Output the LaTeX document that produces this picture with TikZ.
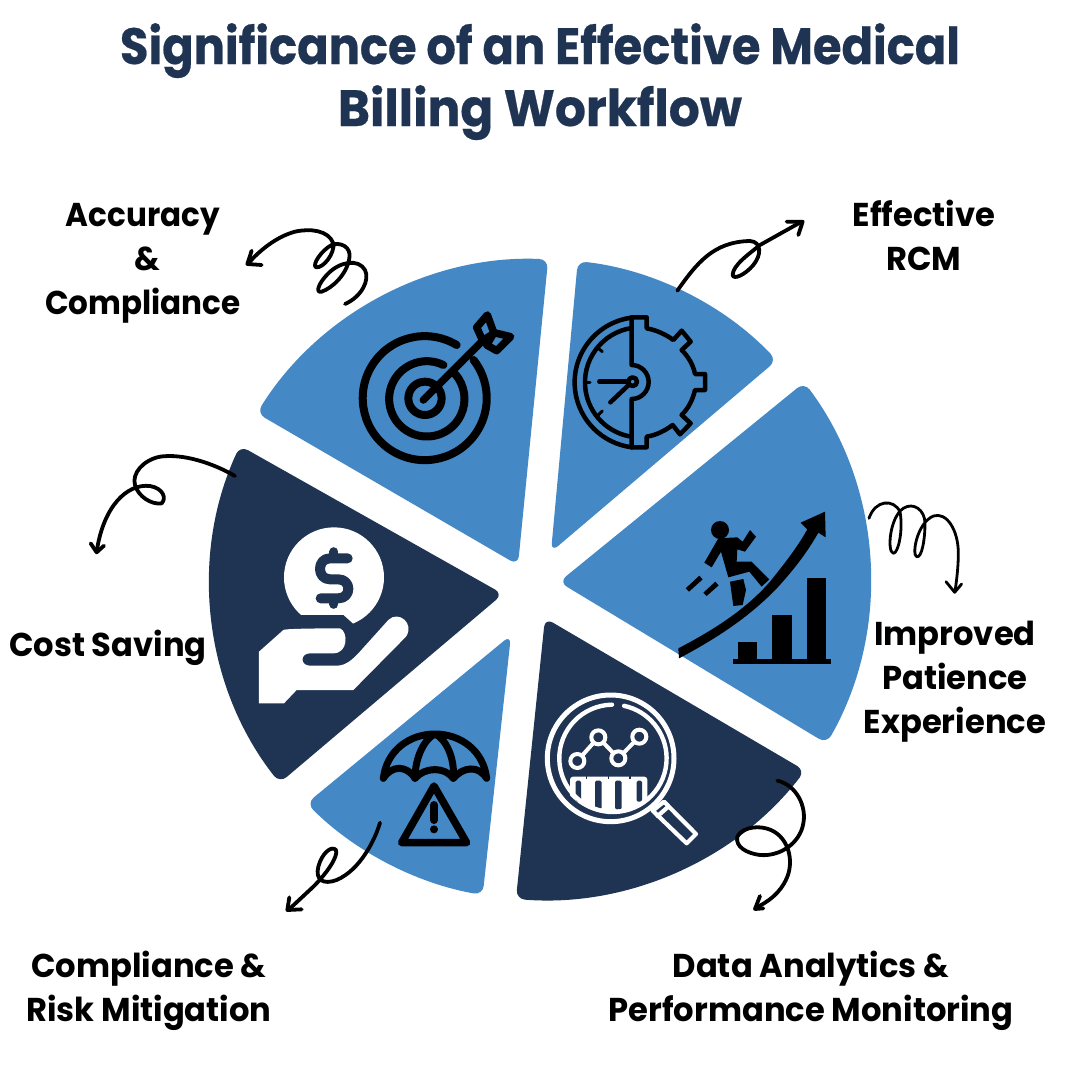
\documentclass[tikz,border=0pt]{standalone}
\usepackage{fontspec}
\setmainfont{Poppins}
\newfontfamily\lab{Poppins}[FakeStretch=0.975]
\newfontfamily\labB{Poppins}[FakeStretch=0.94]
\newfontfamily\titleA{Poppins}[FakeStretch=0.91,BoldFeatures={FakeBold=0.4}]
\newfontfamily\titleB{Poppins}[FakeStretch=0.955,BoldFeatures={FakeBold=0.4}]
\definecolor{lblue}{HTML}{4488C6}
\definecolor{dblue}{HTML}{1F3352}
\tikzset{
 titletext/.style={anchor=base,text=dblue,font=\fontsize{51}{51}\selectfont\bfseries},
 labeltext/.style={anchor=base,text=black,font=\lab\fontsize{33}{33}\selectfont\bfseries},
 sectorshape/.style={rounded corners=9pt},
 squiggle/.style={draw=black,line width=3.8pt,line cap=round,line join=round},
 thinsquiggle/.style={draw=black,line width=2.8pt,line cap=round,line join=round},
 iconline/.style={draw=black,line width=#1,line cap=round,line join=round},
 whiteline/.style={draw=white,line width=#1,line cap=round,line join=round},
 zoomed/.style={shift={#1},scale=0.33333}
}
\newcommand{\sectorfill}[7]{% colour, cx, cy, r, a1, a2, tip
 \fill[#1,sectorshape] (#7) -- ({#2+#4*cos(#5)},{#3+#4*sin(#5)}) arc[start angle=#5,end angle=#6,radius=#4] -- cycle;}
\begin{document}
\begin{tikzpicture}[x=1pt,y=-1pt]
\useasboundingbox (0,0) rectangle (1080,1080);
\fill[white] (0,0) rectangle (1080,1080);
% sectors
\sectorfill{lblue}{535}{587}{328}{212}{272.3}{518,565}
\sectorfill{lblue}{541}{584}{325}{276.5}{316.5}{551,552}
\sectorfill{lblue}{540}{580}{330}{-36.8}{29.7}{559,582}
\sectorfill{dblue}{542}{568}{332}{37.6}{94.5}{545,618}
\sectorfill{lblue}{540}{570}{330}{100}{135}{511,635}
\sectorfill{dblue}{535}{582}{325}{141.8}{204.8}{503,594}
% title
\node[titletext] (t1) at (540,64) {\titleA Significance of an Effective Medical};
\node[titletext] (t2) at (540,126) {\titleB Billing Workflow};
% labels
\node[labeltext] (a1) at (143,226) {\labB Accuracy};
\node[labeltext] (a2) at (147,270) {\&};
\node[labeltext] (a3) at (143,314) {\labB Compliance};
\node[labeltext] (b1) at (924,226) {Effective};
\node[labeltext] (b2) at (924,270) {RCM};
\node[labeltext] (c1) at (955,645) {Improved};
\node[labeltext] (c2) at (955,689) {Patience};
\node[labeltext] (c3) at (955,733) {Experience};
\node[labeltext] (d1) at (811,977) {Data Analytics \&};
\node[labeltext] (d2) at (811,1021) {Performance Monitoring};
\node[labeltext] (e1) at (149,977) {Compliance \&};
\node[labeltext] (e2) at (149,1021) {Risk Mitigation};
\node[labeltext] (f1) at (108,656) {Cost Saving};
% target icon
\begin{scope}[zoomed={(240,190)}]
 \draw[iconline=8pt] (650,465) arc[start angle=-59,end angle=-398,radius=186];
 \draw[iconline=8pt] (610,525) arc[start angle=-64,end angle=-401,radius=113];
 \draw[iconline=8pt] (555,625) circle[radius=50];
 \draw[iconline=7.5pt] (550,630) -- (725,455);
 \draw[iconline=7.5pt] (710,412) -- (742,375) -- (762,430) -- (728,452) -- cycle;
 \draw[iconline=7.5pt] (740,465) -- (770,482) -- (812,440) -- (762,428) -- cycle;
\end{scope}
% gear clock icon
\begin{scope}[zoomed={(540,200)}]
 \draw[iconline=4.5pt] (275,353) arc[start angle=-97.3,end angle=-262.7,radius=196];
 \draw[iconline=4.5pt] (275,384) arc[start angle=-98.7,end angle=-261.3,radius=165];
 \draw[iconline=4.5pt] (275,352) -- (275,495) arc[start angle=-90,end angle=90,radius=51] -- (275,742);
 \draw[iconline=4.5pt] (275,352) -- (320,352) -- (320,385) .. controls (350,390) and (380,405) .. (400,420) -- (425,392) -- (452,425) -- (425,450) .. controls (445,470) and (460,495) .. (465,522) -- (495,522) -- (495,570) -- (465,570) .. controls (458,600) and (445,625) .. (425,645) -- (452,670) -- (420,703) -- (398,675) .. controls (375,692) and (350,705) .. (320,710) -- (320,742) -- (275,742);
 \draw[iconline=4.5pt] (278,545) circle[radius=13];
 \draw[iconline=4.5pt] (178,545) -- (262,545);
 \draw[iconline=4.5pt] (211,607) -- (266,555);
 \draw[iconline=3pt] (138,547) -- (150,547);
 \draw[iconline=3pt] (175,445) -- (187,455);
 \draw[iconline=3pt] (175,645) -- (187,633);
\end{scope}
% climbing icon
\begin{scope}[zoomed={(650,480)}]
 \fill[black] (85,505) .. controls (200,445) and (290,385) .. (360,305) .. controls (400,255) and (440,205) .. (472,148) -- (452,128) -- (525,95) -- (527,172) -- (505,158) .. controls (470,220) and (430,270) .. (385,320) .. controls (300,410) and (200,475) .. (87,535) -- cycle;
 \fill[black] (248,538) rectangle (543,552);
 \fill[black] (263,485) rectangle (322,540);
 \fill[black] (367,405) rectangle (425,540);
 \fill[black] (470,293) rectangle (528,540);
 \fill[black] (210,150) circle[radius=27];
 \fill[black] (205,175) -- (262,172) -- (278,185) -- (300,150) -- (318,170) -- (285,215) -- (262,208) -- (260,245) -- (305,245) -- (358,298) -- (335,320) -- (298,275) -- (235,292) -- (213,215) -- (185,262) -- (163,248) -- cycle;
 \fill[black] (240,305) -- (280,297) -- (288,330) -- (278,375) -- (250,378) -- cycle;
 \fill[black] (107,325) -- (148,287) -- (158,298) -- (117,335) -- cycle;
 \fill[black] (160,338) -- (196,305) -- (206,316) -- (170,348) -- cycle;
\end{scope}
% magnifier icon
\begin{scope}[zoomed={(520,690)}]
 \begin{scope}
  \clip (272,205) circle[radius=165];
  \fill[white,rounded corners=3pt] (150,420) -- (150,260) -- (382,260) -- (382,420) -- cycle;
  \foreach \sx/\sw/\sb in {167/16/335,225/20/358,285/20/358,350/16/335}{
   \fill[dblue,rounded corners=1.5pt] (\sx,272) rectangle (\sx+\sw,\sb);}
  \foreach \nx in {200,266,330}{
   \fill[dblue] (\nx-2,258) rectangle (\nx+2,266);}
 \end{scope}
 \draw[whiteline=5pt] (272,205) circle[radius=190];
 \draw[whiteline=4.4pt] (276,44) arc[start angle=-91,end angle=-438,radius=161];
 \draw[whiteline=4pt] (172,213) -- (235,142) -- (295,205) -- (358,140);
 \foreach \px/\py in {172/213,235/142,295/205,358/140}{
  \filldraw[fill=dblue,draw=white,line width=4pt] (\px,\py) circle[radius=21];}
 \draw[whiteline=4.2pt] (398,362) -- (432,335) -- (528,432) -- (500,460) -- cycle;
 \draw[whiteline=4.2pt] (445,350) -- (413,378);
\end{scope}
% umbrella icon
\begin{scope}[zoomed={(270,710)}]
 \draw[iconline=7pt] (340,205) .. controls (350,120) and (420,72) .. (495,72) .. controls (570,72) and (640,120) .. (650,205) .. controls (625,165) and (580,170) .. (550,205) .. controls (525,170) and (465,170) .. (435,205) .. controls (410,165) and (365,165) .. (340,205);
 \draw[iconline=7pt] (435,205) .. controls (435,140) and (465,85) .. (495,72) .. controls (525,85) and (555,140) .. (550,205);
 \draw[iconline=7.5pt] (492,228) -- (395,398) -- (590,398) -- cycle;
 \draw[iconline=8pt] (492,285) -- (492,330);
 \fill[black] (492,358) circle[radius=12];
\end{scope}
% money icon
\begin{scope}[zoomed={(80,440)}]
 \fill[white] (762,412) circle[radius=150];
 \fill[dblue] (600,525) -- (790,525) -- (820,552) -- (880,560) -- (900,700) -- (600,700) -- cycle;
 \draw[draw=dblue,line width=10pt,line cap=round,line join=round] (803,355) -- (750,355) .. controls (710,355) and (710,418) .. (750,418) -- (775,418) .. controls (815,418) and (815,475) .. (775,475) -- (722,475);
 \draw[draw=dblue,line width=9pt,line cap=round] (762,335) -- (762,345);
 \draw[draw=dblue,line width=9pt,line cap=round] (762,485) -- (762,493);
 \fill[white] (537,635) -- (610,570) .. controls (615,565) and (770,565) .. (780,565) .. controls (805,575) and (805,640) .. (760,640) -- (690,640) .. controls (660,640) and (660,677) .. (690,677) -- (770,677) .. controls (800,677) and (820,655) .. (835,640) -- (925,540) .. controls (955,510) and (1005,550) .. (978,590) -- (820,750) -- (650,750) -- (612,790) -- (537,790) -- cycle;
\end{scope}
% squiggle arrows
\begin{scope}[zoomed={(240,190)}]
 \draw[squiggle] (315,342) .. controls (365,320) and (390,270) .. (375,240) .. controls (355,205) and (300,215) .. (265,250) .. controls (235,280) and (225,310) .. (245,305) .. controls (275,295) and (320,255) .. (328,205) .. controls (335,170) and (300,155) .. (275,165) .. controls (245,180) and (215,225) .. (228,232) .. controls (250,235) and (285,190) .. (280,160) .. controls (265,120) and (210,115) .. (165,125) .. controls (110,140) and (60,180) .. (25,220);
 \draw[squiggle] (35,182) -- (22,222) -- (65,225);
\end{scope}
\begin{scope}[zoomed={(540,200)}]
 \draw[squiggle] (412,272) .. controls (470,190) and (520,125) .. (630,123) .. controls (665,125) and (665,165) .. (640,195) .. controls (615,225) and (580,240) .. (578,225) .. controls (578,195) and (630,160) .. (660,135) -- (785,65);
 \draw[squiggle] (740,65) -- (788,65) -- (775,105);
\end{scope}
\begin{scope}[zoomed={(650,480)}]
 \draw[thinsquiggle] (657,115) .. controls (675,60) and (730,55) .. (750,95) .. controls (760,150) and (745,220) .. (730,220) .. controls (710,215) and (720,110) .. (760,85) .. controls (790,65) and (825,90) .. (825,130) .. controls (825,180) and (815,235) .. (800,230) .. controls (785,225) and (800,130) .. (850,108) .. controls (890,95) and (925,150) .. (925,220) .. controls (925,260) and (920,300) .. (915,335);
 \draw[thinsquiggle] (888,305) -- (914,337) -- (935,312);
\end{scope}
\begin{scope}[zoomed={(520,690)}]
 \draw[squiggle] (772,272) .. controls (830,285) and (860,350) .. (850,400) .. controls (840,460) and (780,500) .. (720,495) .. controls (680,490) and (645,470) .. (652,440) .. controls (665,410) and (730,400) .. (770,430) .. controls (810,460) and (820,520) .. (800,565) .. controls (780,610) and (745,635) .. (705,655);
 \draw[squiggle] (720,618) -- (705,657) -- (730,655);
\end{scope}
\begin{scope}[zoomed={(270,710)}]
 \draw[squiggle] (330,338) .. controls (315,390) and (270,480) .. (200,510) .. controls (160,525) and (135,510) .. (145,470) .. controls (155,430) and (185,405) .. (198,420) .. controls (205,440) and (170,490) .. (130,530) -- (55,600);
 \draw[squiggle] (58,562) -- (52,600) -- (95,598);
\end{scope}
\begin{scope}[zoomed={(80,440)}]
 \draw[squiggle] (465,108) .. controls (400,70) and (310,40) .. (240,50) .. controls (190,60) and (155,100) .. (165,135) .. controls (175,170) and (215,195) .. (245,190) .. controls (260,175) and (250,145) .. (210,138) .. controls (140,130) and (70,200) .. (50,335);
 \draw[squiggle] (32,310) -- (50,337) -- (72,317);
\end{scope}
\end{tikzpicture}
\end{document}
